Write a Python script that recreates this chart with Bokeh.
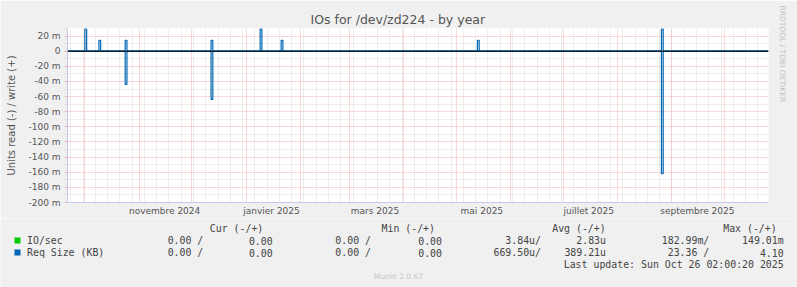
import math
import pandas as pd
from bokeh.plotting import figure
from bokeh.layouts import column, row
from bokeh.models import FixedTicker, Grid, Span, Label, Range1d, Title
from bokeh.embed import file_html
from bokeh.resources import INLINE

# ---------------- data ----------------
TITLE = "IOs for /dev/zd224 - by year"
Y_LABEL = "Units read (-) / write (+)"
X_START = "2024-09-21 02:00:00"
X_END = "2025-10-26 02:00:00"

# daily consolidated Req Size samples that are non-zero (values in milli-units)
spike_dates = ["2024-10-01", "2024-10-09", "2024-10-24", "2024-12-12",
               "2025-01-09", "2025-01-21", "2025-05-13", "2025-08-26"]
write_vals = [29.6, 14.3, 14.5, 14.5, 29.6, 14.5, 14.3, 29.6]
read_vals = [0.0, 0.0, 44.0, 63.7, 0.0, 0.0, 0.0, 162.0]

y_ticks = [20, 0, -20, -40, -60, -80, -100, -120, -140, -160, -180, -200]
y_tick_labels = ["20 m", "0", "-20 m", "-40 m", "-60 m", "-80 m", "-100 m",
                 "-120 m", "-140 m", "-160 m", "-180 m", "-200 m"]
y_minor = [30, 10, -10, -30, -50, -70, -90, -110, -130, -150, -170, -190]

month_label_dates = ["2024-11-15 12:00", "2025-01-15 12:00", "2025-03-15 12:00",
                     "2025-05-15 12:00", "2025-07-15 12:00", "2025-09-15 12:00"]
month_labels = ["novembre 2024", "janvier 2025", "mars 2025", "mai 2025",
                "juillet 2025", "septembre 2025"]

legend_names = ["IO/sec", "Req Size (KB)"]
legend_colors = ["#00CC00", "#0066B3"]
legend_headers = ["Cur (-/+)", "Min (-/+)", "Avg (-/+)", "Max (-/+)"]
cur_vals = [("0.00 /", "0.00"), ("0.00 /", "0.00")]
min_vals = [("0.00 /", "0.00"), ("0.00 /", "0.00")]
avg_vals = [("3.84u/", "2.83u"), ("669.50u/", "389.21u")]
max_vals = [("182.99m/", "149.01m"), ("23.36 /", "4.10")]
LAST_UPDATE = "Last update: Sun Oct 26 02:00:20 2025"
MUNIN = "Munin 2.0.67"
RRD = "RRDTOOL / TOBI OETIKER"


def ms(d):
    return pd.Timestamp(d).value / 1e6


# full daily series (zero where no activity was recorded)
days = pd.date_range("2024-09-21", "2025-10-26", freq="D")
w = pd.Series(0.0, index=days)
r = pd.Series(0.0, index=days)
w[pd.to_datetime(spike_dates)] = write_vals
r[pd.to_datetime(spike_dates)] = [-v for v in read_vals]

BG = "#F0F0F0"
TXT = "#555555"
AX = "#C8C8EE"
RED = "#EDB2B2"
GRY = "#DCDCDC"

# ---------------- main figure ----------------
L, T, FW, FH = 67, 28, 701, 175
MAIN_H = 218
p = figure(width=797, height=MAIN_H, x_axis_type="datetime",
           x_range=Range1d(pd.Timestamp(X_START), pd.Timestamp(X_END)),
           y_range=Range1d(-200, 30),
           min_border_left=L, min_border_right=797 - L - FW,
           min_border_top=T, min_border_bottom=MAIN_H - T - FH,
           output_backend="svg", toolbar_location=None, title=TITLE)
p.border_fill_color = BG
p.background_fill_color = "#FFFFFF"
p.outline_line_color = None

p.title.align = "left"
p.title.offset = 243
p.title.text_font = "DejaVu Sans"
p.title.text_font_size = "12.5px"
p.title.text_font_style = "normal"
p.title.text_color = TXT
p.title.standoff = 3

p.add_layout(Title(text=RRD, align="left", offset=-23, standoff=15,
                   vertical_align="top",
                   text_font="DejaVu Sans", text_font_size="7.5px",
                   text_font_style="normal", text_color="#C0C0C0"), "right")

xa = p.xaxis[0]
xa.ticker = FixedTicker(ticks=[ms(d) for d in month_label_dates])
xa.major_label_overrides = {ms(d): lab for d, lab in zip(month_label_dates, month_labels)}
xa.major_tick_line_color = None
xa.minor_tick_line_color = None
xa.major_tick_out = 0
xa.major_tick_in = 0
xa.minor_tick_out = 0
xa.minor_tick_in = 0
xa.axis_line_color = AX
xa.major_label_text_font = "DejaVu Sans"
xa.major_label_text_font_size = "9px"
xa.major_label_text_color = TXT
xa.major_label_standoff = 3

ya = p.yaxis[0]
ya.ticker = FixedTicker(ticks=y_ticks, minor_ticks=y_minor)
ya.major_label_overrides = {t: lab for t, lab in zip(y_ticks, y_tick_labels)}
ya.major_tick_line_color = RED
ya.major_tick_out = 3
ya.major_tick_in = 0
ya.minor_tick_line_color = GRY
ya.minor_tick_out = 3
ya.minor_tick_in = 0
ya.axis_line_color = AX
ya.major_label_text_font = "DejaVu Sans"
ya.major_label_text_font_size = "9px"
ya.major_label_text_color = TXT
ya.major_label_standoff = 4
ya.axis_label = Y_LABEL
ya.axis_label_text_font = "DejaVu Sans"
ya.axis_label_text_font_size = "10px"
ya.axis_label_text_font_style = "normal"
ya.axis_label_text_color = TXT
ya.axis_label_standoff = 8

p.xgrid.visible = False
p.ygrid.visible = False

mondays = pd.date_range("2024-09-23", "2025-10-26", freq="7D")
month_starts = pd.date_range("2024-10-01", "2025-10-26", freq="MS")
p.add_layout(Grid(dimension=0, ticker=FixedTicker(ticks=[ms(d) for d in mondays]),
                  grid_line_color=GRY, grid_line_dash="1 1", level="underlay"))
p.add_layout(Grid(dimension=0, ticker=FixedTicker(ticks=[ms(d) for d in month_starts]),
                  grid_line_color=RED, grid_line_dash="1 1", level="underlay"))
p.add_layout(Grid(dimension=1, ticker=FixedTicker(ticks=y_minor),
                  grid_line_color=GRY, grid_line_dash="1 1", level="underlay"))
p.add_layout(Grid(dimension=1, ticker=FixedTicker(ticks=y_ticks),
                  grid_line_color=RED, grid_line_dash="1 1", level="underlay"))

p.step(days, w.values, mode="after", line_color=legend_colors[1], line_width=1.2)
p.step(days, r.values, mode="after", line_color=legend_colors[1], line_width=1.2)
p.add_layout(Span(location=0, dimension="width", line_color="#000000", line_width=1))

# ---------------- legend strip (data coordinates = page pixels) ----------------
LG_H = 287 - MAIN_H
lg = figure(width=797, height=LG_H, x_range=Range1d(0, 797),
            y_range=Range1d(287, MAIN_H), min_border=0,
            output_backend="svg", toolbar_location=None)
lg.axis.visible = False
lg.grid.visible = False
lg.outline_line_color = None
lg.border_fill_color = BG
lg.background_fill_color = BG


def lab(text, cx, cy, align="left", size="9.9px", font="DejaVu Sans Mono",
        color="#444444"):
    lg.add_layout(Label(x=cx, y=cy, text=text, text_align=align,
                        text_baseline="middle", text_font=font,
                        text_font_size=size, text_color=color))


for h, x in zip(legend_headers, [209.3, 381.0, 551.7, 722.7]):
    lab(h, x, 228)
rows_y = [240, 252]
w_ends = [202.8, 370.5, 540.5, 708.8]
r_ends = [272.2, 441.5, 605.5, 783.2]
lg.scatter(x=[17, 17], y=rows_y, marker="square", size=6,
           fill_color=legend_colors, line_color=None)
for i, name in enumerate(legend_names):
    y = rows_y[i]
    lab(name, 26.5, y)
    for k, vals in enumerate([cur_vals, min_vals, avg_vals, max_vals]):
        lab(vals[i][0], w_ends[k], y, align="right")
        lab(vals[i][1], r_ends[k], y, align="right")
lab(LAST_UPDATE, 783.2, 264, align="right")
lab(MUNIN, 398, 276, align="center", size="7.5px", font="DejaVu Sans", color="#C4C4C4")

layout = column(row(p, spacing=0), lg, spacing=0)
open("out.html", "w").write(file_html(layout, INLINE))
